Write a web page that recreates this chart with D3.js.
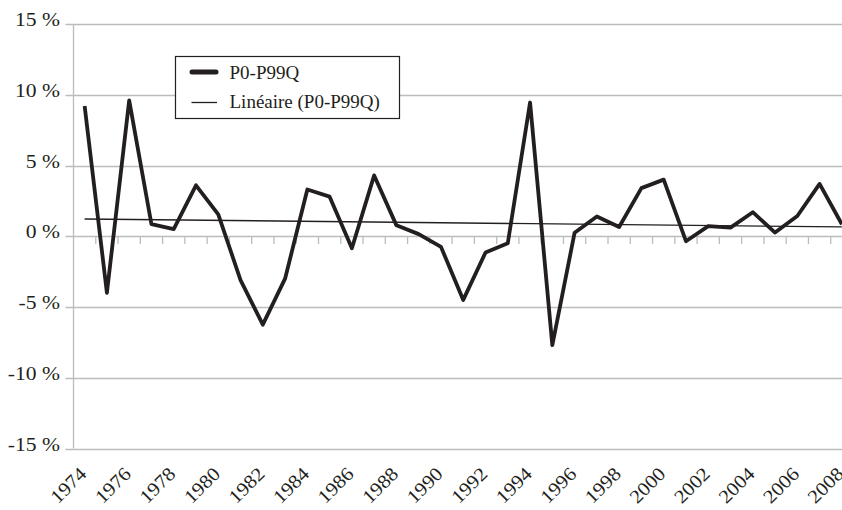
<!DOCTYPE html>
<html>
<head>
<meta charset="utf-8">
<script src="https://cdn.jsdelivr.net/npm/d3@7"></script>
<style>
  body { margin: 0; background: #fff; }
  text { font-family: "Liberation Serif", "Times New Roman", serif; fill: #231f20; }
</style>
</head>
<body>
<script>
// data
var years = ["1974","1975","1976","1977","1978","1979","1980","1981","1982","1983",
             "1984","1985","1986","1987","1988","1989","1990","1991","1992","1993",
             "1994","1995","1996","1997","1998","1999","2000","2001","2002","2003",
             "2004","2005","2006","2007","2008"];
var values = [9.2, -4.0, 9.6, 0.85, 0.5, 3.6, 1.55, -3.1, -6.25, -3.0,
              3.3, 2.8, -0.85, 4.3, 0.77, 0.15, -0.75, -4.5, -1.15, -0.5,
              9.45, -7.7, 0.25, 1.4, 0.65, 3.4, 4.0, -0.35, 0.72, 0.61,
              1.7, 0.26, 1.43, 3.7, 0.85];
var trendYears = ["1974", "2008"];
var trendValues = [1.22, 0.66];
var yTicks = [-15, -10, -5, 0, 5, 10, 15];
var xTickLabels = ["1974","1976","1978","1980","1982","1984","1986","1988","1990",
                   "1992","1994","1996","1998","2000","2002","2004","2006","2008"];
var legendLabels = ["P0-P99Q", "Linéaire (P0-P99Q)"];

var drawChart = function()
{
  // setup
  var screen = { width: 842, height: 510 };
  var plot = { left: 73.5, right: 853, top: 24, bottom: 448.5 };
  var grid = "#bcbcc0";
  var ink = "#231f20";

  var svg = d3.select("body")
              .append("svg")
              .attr("width", screen.width)
              .attr("height", screen.height);

  var xScale = d3.scaleBand()
                 .domain(years)
                 .range([plot.left, plot.right]);

  var yScale = d3.scaleLinear()
                 .domain([-15, 15])
                 .range([plot.bottom, plot.top]);

  var xMid = function(d) { return xScale(d) + xScale.bandwidth() / 2; };

  // horizontal gridlines
  svg.append("g")
     .attr("class", "grid")
     .selectAll("line")
     .data(yTicks)
     .enter()
     .append("line")
     .attr("x1", plot.left - 8)
     .attr("x2", screen.width)
     .attr("y1", function(d) { return Math.round(yScale(d)) + 0.5; })
     .attr("y2", function(d) { return Math.round(yScale(d)) + 0.5; })
     .attr("stroke", grid)
     .attr("stroke-width", 1.3);

  // y axis line
  svg.append("line")
     .attr("x1", plot.left)
     .attr("x2", plot.left)
     .attr("y1", yScale(15))
     .attr("y2", yScale(-15))
     .attr("stroke", grid)
     .attr("stroke-width", 1.3);

  // y labels (glyphs are wide in the picture, so stretch them)
  svg.append("g")
     .attr("class", "yLabels")
     .selectAll("text")
     .data(yTicks)
     .enter()
     .append("text")
     .attr("transform", function(d) {
       return "translate(" + 60 + "," + (yScale(d) + 2) + ") scale(1.2,1)";
     })
     .attr("text-anchor", "end")
     .attr("font-size", 18)
     .text(function(d) { return d + " %"; });

  // category ticks on the zero line
  var boundaries = years.slice(1).map(function(d) { return xScale(d); });
  svg.append("g")
     .attr("class", "xTicks")
     .selectAll("line")
     .data(boundaries)
     .enter()
     .append("line")
     .attr("x1", function(d) { return d; })
     .attr("x2", function(d) { return d; })
     .attr("y1", Math.round(yScale(0)))
     .attr("y2", Math.round(yScale(0)) + 8)
     .attr("stroke", grid)
     .attr("stroke-width", 1.3);

  // x labels, rotated and a bit stretched along the baseline
  svg.append("g")
     .attr("class", "xLabels")
     .selectAll("text")
     .data(xTickLabels)
     .enter()
     .append("text")
     .attr("transform", function(d) {
       return "translate(" + (xMid(d) + 3) + "," + 475 + ") rotate(-45) scale(1.1,1)";
     })
     .attr("text-anchor", "end")
     .attr("font-size", 19)
     .text(function(d) { return d; });

  // trend line
  var line = d3.line()
               .x(function(d) { return xMid(d[0]); })
               .y(function(d) { return yScale(d[1]); });

  svg.append("path")
     .datum(d3.zip(trendYears, trendValues))
     .attr("d", line)
     .attr("fill", "none")
     .attr("stroke", ink)
     .attr("stroke-width", 1.4);

  // series
  svg.append("path")
     .datum(d3.zip(years, values))
     .attr("d", line)
     .attr("fill", "none")
     .attr("stroke", ink)
     .attr("stroke-width", 3.8)
     .attr("stroke-linejoin", "round");

  // legend
  var legend = svg.append("g").attr("class", "legend");
  legend.append("rect")
        .attr("x", 175.5)
        .attr("y", 56.5)
        .attr("width", 224)
        .attr("height", 62)
        .attr("fill", "#fff")
        .attr("stroke", ink)
        .attr("stroke-width", 1.2);

  legend.append("line")
        .attr("x1", 192).attr("x2", 216)
        .attr("y1", 72).attr("y2", 72)
        .attr("stroke", ink)
        .attr("stroke-width", 5)
        .attr("stroke-linecap", "round");

  legend.append("line")
        .attr("x1", 191.5).attr("x2", 217)
        .attr("y1", 102.5).attr("y2", 102.5)
        .attr("stroke", ink)
        .attr("stroke-width", 1.3);

  legend.selectAll("text")
        .data(legendLabels)
        .enter()
        .append("text")
        .attr("x", 229.5)
        .attr("y", function(d, i) { return 79 + i * 29; })
        .attr("font-size", 19)
        .text(function(d) { return d; });
}

drawChart();
</script>
</body>
</html>
